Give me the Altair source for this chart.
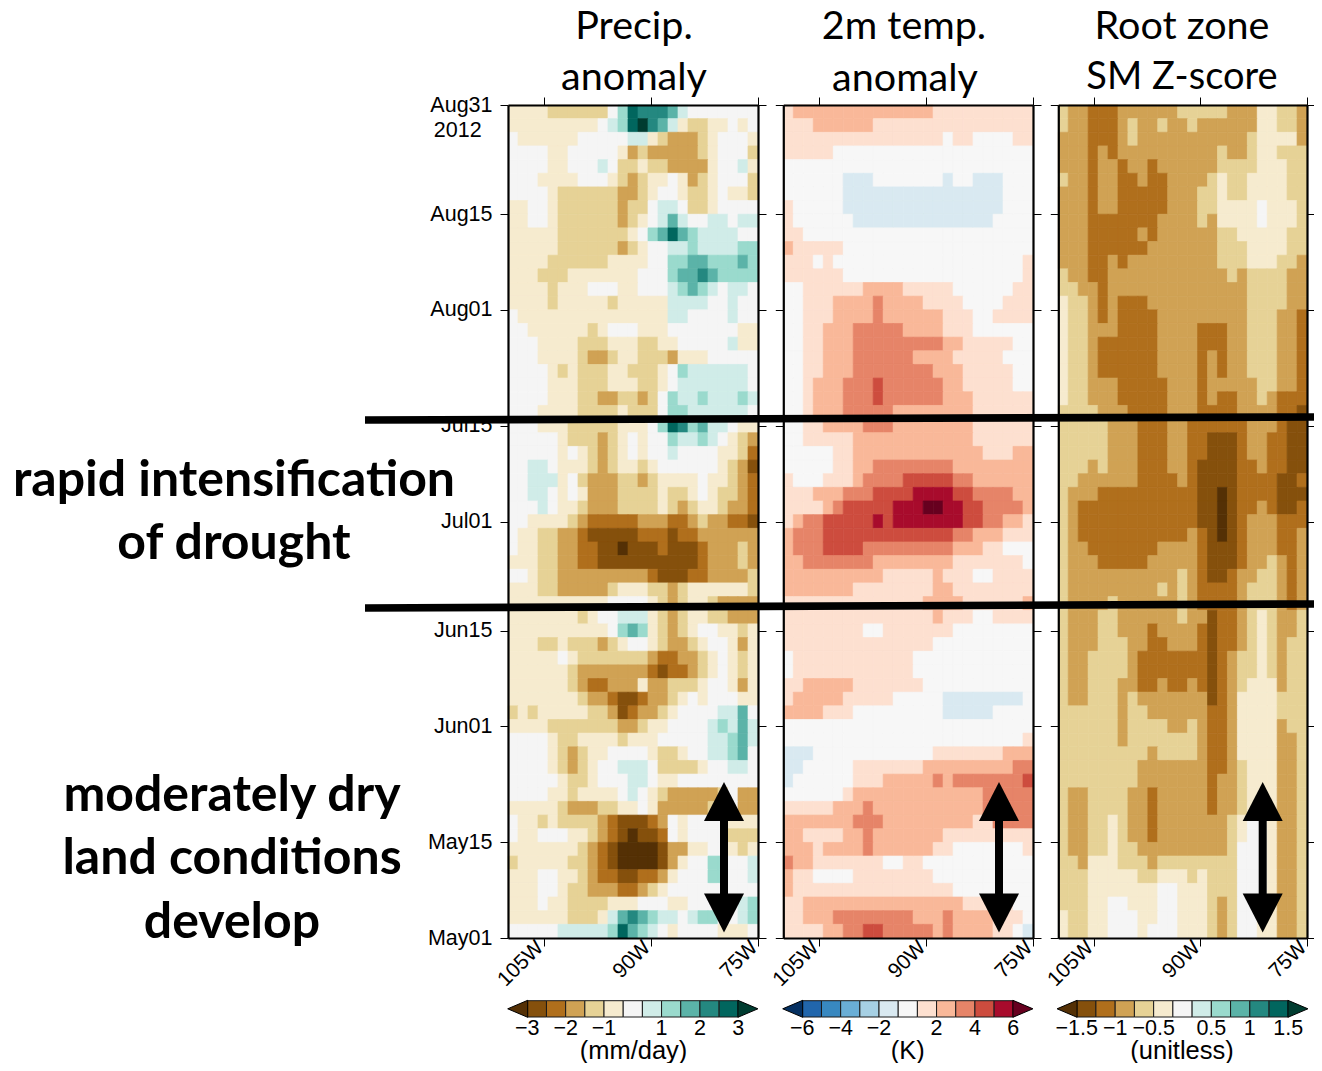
import altair as alt
import pandas as pd

W, H = 1306, 1055

# Band index per cell, top row = Aug31, 2-day rows, 1.4-degree columns.
# '.' = central band, digits = bands on the dry / warm side, letters = bands on the wet / cool side.
PRECIP = [
"1111222222.bedddca.......",
"111111111.abefdca12211.1.",
".111111.....aa1233321...1",
"....11.....1323333321...2",
"....11...a.2212233331..a1",
"...1111...123211.1321...2",
"....12222223321..1221.112",
"11..1222222322.aa.221....",
"11..1222222321.aca..aa.aa",
"1111122222221.bcecbaaaa..",
"11111222222321..aabaaaabb",
"11112222221111..bbccbbbcb",
"1112221111111...bccdcbbbb",
"11112111...11...abcba.aa.",
"1111211111211111aaaa..a..",
".111111111111111aa....a..",
"..11111121...111.......11",
"...11112221112211.....a11",
"...11112332112223111.....",
"....121222112221.baaaaaa.",
"....111222111221.aaaaaaa.",
"....11122332232.baabaaaba",
"...111122221222.bbaaaaaa.",
"...11122222111.bedbcaa.11",
".....1222321.1..baaba.123",
".....1.12321.1..a....1124",
"..aa.1112321121......1235",
"..aaa1.233322321111.11234",
"..aa.1.133322221221.12234",
"...a.11233322221232112334",
"..11112344444333443233445",
".112233455555444544333333",
".112233445565554555433323",
"1112233445555555555433323",
"..12233333333345554433332",
"1112233333211122321111112",
"1111111111....12321123333",
"111111121..aaa12321122333",
"1111111111.bcb12321..1121",
"111221222321..123321..131",
"11111.122222223443321.121",
"111111233333334544321.121",
"11111123443331332221..131",
"111111123345543321.1...11",
"21211111223543321....aac.",
"1111222222233211....abaca",
"....12211112111.....aabca",
"....123211....1221..aabc.",
"....12321..aaa.22221..aa.",
".....1221...aa.11........",
"....1121111.a.12333332.33",
"1111123332211.13333321.33",
".112122223455543.1....111",
".11...1123456554.1....222",
"11111112345666653311..121",
"211111223456666531..bb..a",
"111..112344554431...bb..a",
"111..12233344321.........",
"111.112222111...11.....ab",
"1111112221acdcbaa.abb..ab",
".....aaaaabecba.1....111.",
]

TEMP = [
"1222222222222221111111111",
"1112222221111111111111111",
"1111111111111111.11....11",
"11111....................",
".........................",
"......aaa.......a..aaa...",
"......aaaaaaaaaaaaaaaa...",
"1.....aaaaaaaaaaaaaaaa...",
"1......aaaaaaaaaaaaaa....",
"11.......................",
"211111...................",
"111.1...................1",
"111111..................1",
"..111111222211111......11",
"..1112222322221111....111",
"..11122223222222111..1111",
"..11222333332222111......",
"..112223333333332211111..",
"..11222333333222211111...",
"..112223333333322211111..",
"..122233343333332211111..",
"..12223334333333222111111",
"..12223333322222222111111",
"..11222233322222222111111",
"..11111222222222222111111",
".....11222222222222211122",
".....11223333333322222222",
"1...111233334444433222222",
"1112223334444555544333322",
"1111234444455566554433332",
"1233444445455555554433221",
"2333444444444444433222111",
"2333444433333333322211...",
"223333333222222221111111.",
"2222222222111112111..1111",
"2222222111111112211111111",
"1111111111111122221111112",
"1111111111111112111..1111",
"11111111..1111111........",
"111111111111111..........",
".111111111111............",
".111111111111............",
"11222221111111...........",
"12222211111.....aaaaaaaa.",
"2222111.........aaaaa....",
".........................",
"........................1",
"aaa............1111111222",
"aa.....111111122222222233",
"a......111222223233333334",
"......1222222222222233333",
"1111122232222222222233333",
"2222222333222222222113333",
"2211112232222222111111111",
"22212222322222211.......1",
"3221111111..11...........",
"211....11111111..........",
"21111111111111111........",
"11222222222222222211111..",
"112223333333322232222111.",
"11112233443333323222211.a",
]

SOIL = [
"2334443333332222233311223",
"2334443233233233333311223",
"3334443233333333333211113",
"3334343333333333233211222",
"3334334334333333222211122",
"2334334434433332122111122",
"3334334444433322122111122",
"33343344444333221111.1112",
"33344444443333231111.1112",
"3334444434333333221111122",
"3334444443333333222111122",
"3334434333333333222111223",
"2334433333333333323222233",
"2233433333333333333222233",
"1223434443333333333222233",
"1223434444333333333222334",
"1223334444333344433222334",
"1223444444333344433222334",
"1223444444333343433222334",
"1223444444333343433222334",
"1223334444433343333322334",
"1223334444433343443323444",
"2222333444433344443333445",
"2222233344433444444333455",
"2222233344433445554334455",
"2222233344433445554334455",
"2223233344433455554434455",
"2233333344443455554444554",
"2333444444444455654444555",
"2344444444444455654434554",
"2344444444444455654333444",
"2344444444444345654333443",
"2334444444333345554333443",
"2333444443333345554332343",
"2333333333332345543322343",
"2333333333232344443222343",
"2333323333332344443222343",
"2333223333332335443212332",
"2333223334333345443212332",
"2333222334433345443212322",
"2332222344444445432212322",
"2332222344444445432212322",
"2332223344344345432111322",
"2332223233333335431111222",
"2222223223333334431111222",
"2222223222233234431111322",
"2222223222222234431111332",
"2222222223222234431111332",
"2222222233333334432111332",
"2222222233333334332111332",
"2332222334333334332111332",
"2332222334333334332111332",
"2332212334333333321..1332",
"2332212334333333321..1332",
"233221223333333332...1332",
"223111222322222222...1332",
"222111112211121222...1332",
"2221111111..111222...1332",
"22211..111..111232..11332",
"12211...11..111232..11332",
"12211...1...111232..11332",
]

LON_WEST = -110.0
LON_STEP = 1.4
ROW_DAYS = 2
DAY_MAX = 122

TICK_DAYS = [0, 14, 31, 45, 61, 75, 92, 106, 122]
TICK_NAMES = ["May01", "May15", "Jun01", "Jun15", "Jul01", "Jul15", "Aug01", "Aug15", "Aug31"]
LON_TICKS = [-105, -90, -75]

BRBG = ["#543005", "#85500c", "#b06f1c", "#d0a254", "#e6d296", "#f6ebcf", "#f5f5f5",
        "#d0ece8", "#9adacd", "#5bb3a8", "#248880", "#01665e", "#003c30"]
RDBU = ["#053061", "#2166ac", "#3888c0", "#6aaed6", "#a6d0e4", "#d9e9f1", "#f7f7f7",
        "#fde0d0", "#f9b899", "#e68468", "#cd4c3e", "#a80b2c", "#67001f"]
LEVELS = list(range(-6, 7))

CB_POS = [-5.5, -3.5, -1.5, 1.5, 3.5, 5.5]
CB_PRECIP = ["\u22123", "\u22122", "\u22121", "1", "2", "3"]
CB_TEMP = ["\u22126", "\u22124", "\u22122", "2", "4", "6"]
CB_SOIL = ["\u22121.5", "\u22121", "\u22120.5", "0.5", "1", "1.5"]

SANS = "Liberation Sans"
CAL = "Lato"
Y_TOP, Y_BOT = 97, 930


def frame(rows, digit_sign):
    recs = []
    for r, row in enumerate(rows):
        for c, ch in enumerate(row):
            if ch == ".":
                lev = 0
            elif ch.isdigit():
                lev = digit_sign * int(ch)
            else:
                lev = -digit_sign * (ord(ch) - 96)
            recs.append({
                "x0": LON_WEST + LON_STEP * c,
                "x1": LON_WEST + LON_STEP * (c + 1),
                "y1": DAY_MAX - ROW_DAYS * r,
                "y0": DAY_MAX - ROW_DAYS * (r + 1),
                "lev": lev,
            })
    return pd.DataFrame(recs)


name_expr = "{" + ",".join(f"'{d}':'{n}'" for d, n in zip(TICK_DAYS, TICK_NAMES)) + "}[datum.value]"
lon_expr = "abs(datum.value)+'W'"


def panel(rows, digit_sign, palette, xr, show_y):
    df = frame(rows, digit_sign)
    xs = alt.Scale(domain=[LON_WEST, -75], range=xr, nice=False, zero=False)
    ys = alt.Scale(domain=[0, DAY_MAX], range=[Y_BOT, Y_TOP], nice=False, zero=False)
    cs = alt.Scale(domain=LEVELS, range=palette)
    common = dict(domainColor="black", domainWidth=2.2, tickColor="black", tickWidth=1, tickSize=8,
                  grid=False, title=None, zindex=1, labelFont=SANS, labelColor="black")
    heat = alt.Chart(df).mark_rect(strokeWidth=0.7).encode(
        x=alt.X("x0:Q", scale=xs, axis=alt.Axis(
            orient="bottom", offset=-(H - Y_BOT), values=LON_TICKS, labelExpr=lon_expr,
            labelAngle=315, labelAlign="right", labelBaseline="middle", labelFontSize=21,
            labelPadding=-2, labelOffset=-4, labelOverlap=False, labelFlush=False,
            labelBound=False, **common)),
        x2="x1:Q",
        y=alt.Y("y0:Q", scale=ys, axis=alt.Axis(
            orient="left", offset=-xr[0], values=TICK_DAYS, labelExpr=name_expr,
            labels=show_y, labelFontSize=21.5, labelPadding=8, labelOverlap=False,
            labelFlush=False, labelBound=False, **common)),
        y2="y1:Q",
        color=alt.Color("lev:O", scale=cs, legend=None),
        stroke=alt.Stroke("lev:O", scale=cs, legend=None),
    )
    outer = alt.Chart(df.head(1)).mark_rect(opacity=0).encode(
        x=alt.X("x0:Q", scale=xs, axis=alt.Axis(
            orient="top", offset=-Y_TOP, values=LON_TICKS, labels=False, **common)),
        x2="x1:Q",
        y=alt.Y("y0:Q", scale=ys, axis=alt.Axis(
            orient="right", offset=-(W - xr[1]), values=TICK_DAYS, labels=False, **common)),
        y2="y1:Q",
    )
    return [heat, outer]


def text(label, x, y, font, size, weight="normal"):
    return alt.Chart(pd.DataFrame({"t": [label]})).mark_text(
        font=font, fontSize=size, fontWeight=weight, color="black", baseline="middle", align="center"
    ).encode(x=alt.value(x), y=alt.value(y), text="t:N")


def colourbar(palette, xr, labels, unit, unit_x):
    xs = alt.Scale(domain=[-5.5, 5.5], range=xr, nice=False, zero=False)
    cs = alt.Scale(domain=LEVELS, range=palette)
    boxes = pd.DataFrame({"lev": list(range(-5, 6))})
    boxes["a"] = boxes["lev"] - 0.5
    boxes["b"] = boxes["lev"] + 0.5
    bars = alt.Chart(boxes).mark_rect(stroke="#1a1a1a", strokeWidth=1).encode(
        x=alt.X("a:Q", scale=xs, axis=None), x2="b:Q",
        y=alt.value(992.7), y2=alt.value(1009),
        color=alt.Color("lev:O", scale=cs, legend=None))
    ends = pd.DataFrame({"lev": [-6, 6]})
    lo = alt.Chart(ends.head(1)).mark_point(
        shape="M1,-0.85L-1,0L1,0.85Z", size=400, filled=True, opacity=1, stroke="black", strokeWidth=1
    ).encode(x=alt.X("lev:Q", scale=xs, axis=None), y=alt.value(1000.8),
             color=alt.Color("lev:O", scale=cs, legend=None))
    hi = alt.Chart(ends.tail(1)).mark_point(
        shape="M-1,-0.85L1,0L-1,0.85Z", size=400, filled=True, opacity=1, stroke="black", strokeWidth=1
    ).encode(x=alt.X("lev:Q", scale=xs, axis=None), y=alt.value(1000.8),
             color=alt.Color("lev:O", scale=cs, legend=None))
    txt = alt.Chart(pd.DataFrame({"p": CB_POS, "t": labels})).mark_text(
        font=SANS, fontSize=21.5, color="black", baseline="middle"
    ).encode(x=alt.X("p:Q", scale=xs, axis=None), y=alt.value(1021), text="t:N")
    ttl = text(unit, unit_x, 1042.5, SANS, 25.5)
    return [bars, lo, hi, txt, ttl]


def slanted(x0, y0, x1, y1, width):
    return alt.Chart(pd.DataFrame({"a": [0]})).mark_rule(color="black", strokeWidth=width).encode(
        x=alt.value(x0), x2=alt.value(x1), y=alt.value(y0), y2=alt.value(y1))


def arrow(x):
    up = alt.Chart(pd.DataFrame({"a": [0]})).mark_point(
        shape="M0,-0.97L1,0.97L-1,0.97Z", size=1600, filled=True, opacity=1, color="black"
    ).encode(x=alt.value(x), y=alt.value(793.5))
    down = alt.Chart(pd.DataFrame({"a": [0]})).mark_point(
        shape="M-1,-0.97L1,-0.97L0,0.97Z", size=1600, filled=True, opacity=1, color="black"
    ).encode(x=alt.value(x), y=alt.value(905))
    shaft = alt.Chart(pd.DataFrame({"a": [0]})).mark_rule(color="black", strokeWidth=8).encode(
        x=alt.value(x), y=alt.value(800), y2=alt.value(900))
    return [shaft, up, down]


layers = []
layers += panel(PRECIP, -1, BRBG, [500.0, 750.0], True)
layers += panel(TEMP, 1, RDBU, [775.3, 1025.0], False)
layers += panel(SOIL, -1, BRBG, [1050.3, 1299.0], False)
layers += colourbar(BRBG, [519.3, 730.3], CB_PRECIP, "(mm/day)", 625.5)
layers += colourbar(RDBU, [794.3, 1005.3], CB_TEMP, "(K)", 899.7)
layers += colourbar(BRBG, [1068.7, 1280.3], CB_SOIL, "(unitless)", 1174)
for ax in (716, 991, 1254.7):
    layers += arrow(ax)
layers += [
    text("2012", 449.7, 123, SANS, 21.5),
    slanted(357, 412, 1306, 409, 7.7),
    slanted(357, 600, 1306, 596, 7.7),
    text("Precip.", 626, 18.5, CAL, 39.5),
    text("anomaly", 626, 69.5, CAL, 39.5),
    text("2m temp.", 896, 18.5, CAL, 39.5),
    text("anomaly", 897, 71, CAL, 39.5),
    text("Root zone", 1174, 18.5, CAL, 39.5),
    text("SM Z-score", 1174, 70, CAL, 38),
    text("rapid intensification", 226, 473, CAL, 50, "bold"),
    text("of drought", 226, 536, CAL, 50, "bold"),
    text("moderately dry", 224, 788, CAL, 50, "bold"),
    text("land conditions", 224, 851, CAL, 50, "bold"),
    text("develop", 224, 915, CAL, 50, "bold"),
]

chart = alt.layer(*layers).resolve_scale(
    x="independent", y="independent", color="independent", stroke="independent"
).properties(
    width=W, height=H, padding=0, autosize=alt.AutoSizeParams(type="none"), background="white"
).configure_view(strokeWidth=0)

chart.save("out.html", embed_options={"renderer": "svg", "actions": False})
